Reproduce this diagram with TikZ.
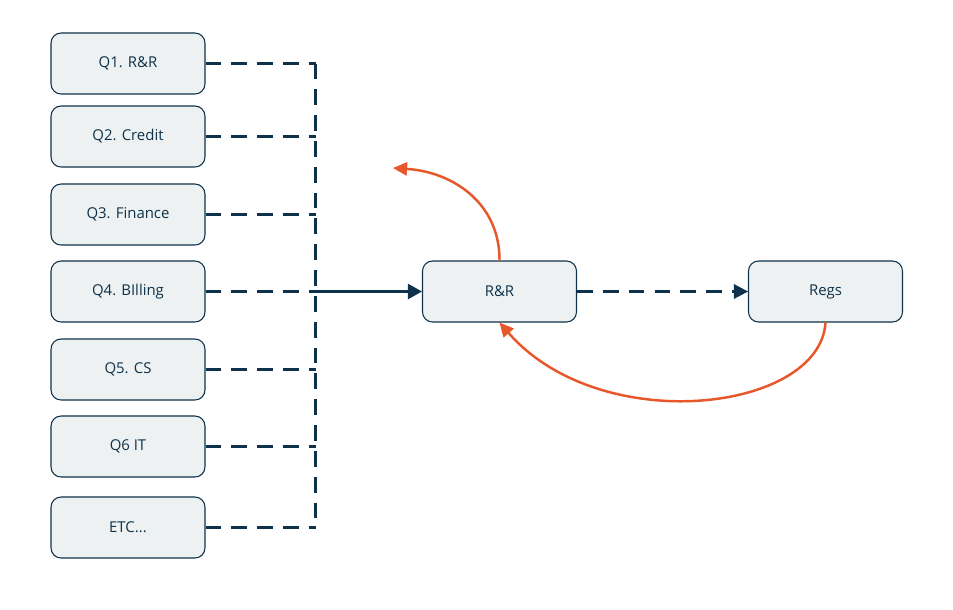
\documentclass[tikz,border=0pt]{standalone}
\usepackage{fontspec}
\setmainfont{Open Sans}
\usetikzlibrary{arrows.meta, positioning, calc}
\definecolor{mynavy}{RGB}{13,50,73}
\definecolor{myorange}{RGB}{232,87,42}
\definecolor{boxfill}{RGB}{238,241,242}

\begin{document}
\begin{tikzpicture}[
    x=0.02cm, y=-0.02cm,
    dept_box/.style={draw=mynavy, line width=0.6pt, rounded corners=0.2cm, fill=boxfill, minimum width=3.08cm, minimum height=1.22cm, inner sep=2pt, font=\fontsize{8.5}{10}\selectfont, text=mynavy},
    dash_link/.style={draw=mynavy, line width=1.4pt, dash pattern=on 9pt off 5.7pt},
    arrow/.style={-{Triangle[length=8pt, width=8.5pt]}, line width=1.5pt, draw=mynavy},
    feedback/.style={-{Triangle[length=8pt, width=7.5pt]}, line width=1.4pt, draw=myorange}
]
    \useasboundingbox[fill=white] (0,0) rectangle (953,609);

    % Question boxes on the left
    \node[dept_box] (q_rr) at (128,63.5) {Q1. R\&R};
    \node[dept_box] (q_credit) at (128,136.5) {Q2. Credit};
    \node[dept_box] (q_finance) at (128,214.5) {Q3. Finance};
    \node[dept_box] (q_billing) at (128,291.5) {Q4. BIlling};
    \node[dept_box] (q_cs) at (128,369.5) {Q5. CS};
    \node[dept_box] (q_it) at (128,446.5) {Q6 IT};
    \node[dept_box] (q_etc) at (128,527.5) {ETC...};

    % Central and right boxes
    \node[dept_box] (rr) at (499.5,291.5) {R\&R};
    \node[dept_box] (regs) at (825.5,291.5) {Regs};

    % Collecting spine
    \coordinate (spine_top) at ($(q_rr.east)+(110,0)$);
    \coordinate (spine_bot) at (spine_top |- q_etc.east);
    \coordinate (spine_mid) at (spine_top |- q_billing.east);
    \draw[dash_link] (spine_top) -- (spine_bot);
    \foreach \q in {q_rr, q_credit, q_finance, q_billing, q_cs, q_it, q_etc}
        \draw[dash_link] (\q.east) -- (\q.east -| spine_top);

    % Into R&R and on to Regs
    \draw[arrow] (spine_mid) -- (rr.west);
    \draw[dash_link, -{Triangle[length=8pt, width=8.5pt, line width=0pt]}] (rr.east) -- (regs.west);

    % Feedback curves
    \coordinate (out_tip) at (393,168);
    \draw[feedback] (rr.north) .. controls (500,205) and (455,172) .. (out_tip);
    \draw[feedback] (regs.south) .. controls (820,412) and (600,438) .. (rr.south);

\end{tikzpicture}
\end{document}
